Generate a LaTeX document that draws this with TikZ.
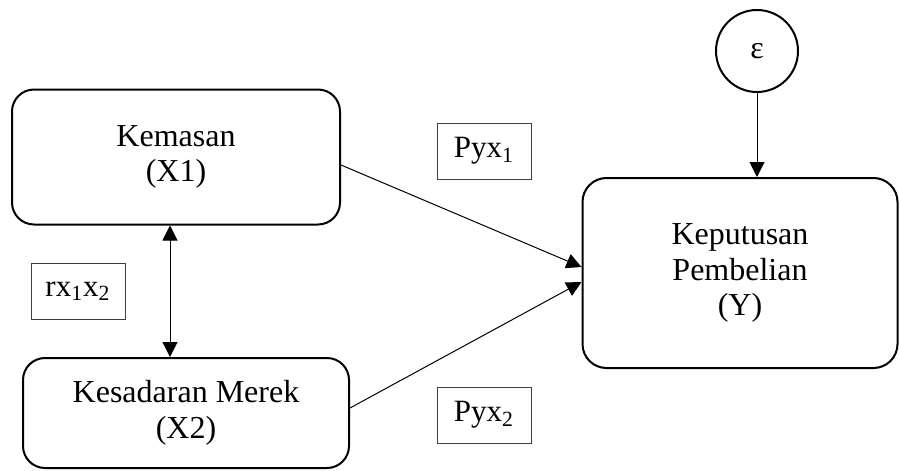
\documentclass[tikz,border=0pt]{standalone}
\usepackage{fontspec}
\setmainfont{Liberation Serif}
\usetikzlibrary{positioning,calc,arrows.meta}

\begin{document}
\begin{tikzpicture}[x=0.5pt, y=-0.5pt,
		var/.style={draw, line width=1pt, rounded corners=11pt, align=center, font=\fontsize{16}{17.8}\selectfont},
		coef/.style={draw=black!75, line width=0.5pt, minimum width=47pt, minimum height=28pt, font=\fontsize{15.5}{17}\selectfont},
		pth/.style={-{Triangle[length=7.5pt,width=7.5pt]}, line width=0.5pt}]
			\useasboundingbox (0,0) rectangle (900,471);
			\node[name=x1, var, minimum width=164pt, minimum height=67.5pt] at (176,157) {Kemasan\\(X1)};
			\node[name=x2, var, minimum width=163pt, minimum height=55pt] at (186,413) {Kesadaran Merek\\(X2)};
			\node[name=y, var, rounded corners=12pt, minimum width=157.5pt, minimum height=95pt] at (740,273) {Keputusan\\Pembelian\\(Y)};
			\node[name=eps, draw, circle, line width=1pt, minimum size=41pt, font=\fontsize{16}{18}\selectfont] at (757,51) {ε};
			\node[name=p1, coef] at (484,151) {Pyx\textsubscript{1}};
			\node[name=p2, coef] at (484,415) {Pyx\textsubscript{2}};
			\node[name=r12, coef] at (78,291) {rx\textsubscript{1}x\textsubscript{2}};
			\draw[pth] ($(x1.east)+(0,8)$) -- ($(y.west)+(0,-6)$);
			\draw[pth] ($(x2.east)+(0,-5)$) -- ($(y.west)+(0,9)$);
			\draw[{Triangle[length=7.5pt,width=7.5pt]}-{Triangle[length=7.5pt,width=7.5pt]}, line width=0.5pt] ($(x1.south)+(-6,0)$) -- ($(x2.north)+(-16,0)$);
			\draw[pth] (eps) -- (eps |- y.north);
		\end{tikzpicture}
\end{document}
